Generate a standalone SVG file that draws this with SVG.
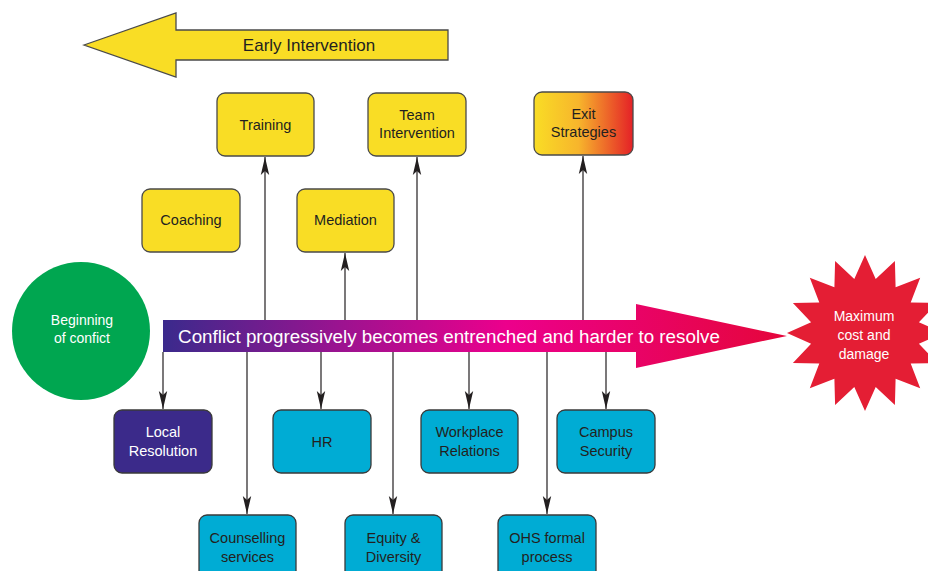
<svg xmlns="http://www.w3.org/2000/svg" width="928" height="571" viewBox="0 0 928 571">
<defs>
<style>
.t{font-family:"Liberation Sans",Arial,sans-serif;font-size:14.5px;fill:#231f20;text-anchor:middle}
.w{fill:#ffffff}
.y{fill:#f9dd25;stroke:#4a4a4a;stroke-width:1.3}
.c{fill:#00acd4;stroke:#3a3a3a;stroke-width:1.3}
.ln{stroke:#231f20;stroke-width:1.2;fill:none}
</style>
<marker id="ah" markerUnits="userSpaceOnUse" markerWidth="20" markerHeight="12" viewBox="0 0 20 12" refX="19" refY="6" orient="auto">
<path d="M19,6 L1,1.8 L5,6 L1,10.2 Z" fill="#231f20"/>
</marker>
<linearGradient id="mg" x1="0" y1="0" x2="1" y2="0">
<stop offset="0" stop-color="#3a2a8c"/>
<stop offset="0.28" stop-color="#9a1390"/>
<stop offset="0.55" stop-color="#ec008c"/>
<stop offset="1" stop-color="#e5063b"/>
</linearGradient>
<linearGradient id="eg" x1="0" y1="0" x2="1" y2="0">
<stop offset="0" stop-color="#f9dd25"/>
<stop offset="0.45" stop-color="#f7b52c"/>
<stop offset="1" stop-color="#e42127"/>
</linearGradient>
</defs>
<rect width="928" height="571" fill="#ffffff"/>

<g id="early-intervention">
<path d="M84,45 L176,13 L176,30 L448,30 L448,60 L176,60 L176,77 Z" fill="#f9dd25" stroke="#4a4a4a" stroke-width="1.3"/>
<text class="t" x="309" y="51" style="font-size:17px">Early Intervention</text>
</g>

<g id="main-arrow">
<path d="M163,320 L636,320 L636,304 L787,336 L636,368 L636,352 L163,352 Z" fill="url(#mg)"/>
<text class="t w" x="449" y="342.5" style="font-size:18.8px">Conflict progressively becomes entrenched and harder to resolve</text>
</g>

<g id="beginning">
<circle cx="81" cy="331" r="69" fill="#00a650"/>
<text class="t w" x="82" y="325" style="font-size:14px">Beginning</text>
<text class="t w" x="82" y="343" style="font-size:14px">of confict</text>
</g>

<g id="maximum">
<polygon fill="#e41e34" transform="translate(5,0)" points="860,255 870.7,279.1 889.9,260.9 890.6,287.3 915.2,277.8 905.7,302.4 932.1,303.1 913.9,322.3 938,333 913.9,343.7 932.1,362.9 905.7,363.6 915.2,388.2 890.6,378.7 889.9,405.1 870.7,387 860,411 849.3,387 830.1,405.1 829.4,378.7 804.8,388.2 814.3,363.6 787.9,362.9 806.1,343.7 782,333 806.1,322.3 787.9,303.1 814.3,302.4 804.8,277.8 829.4,287.3 830.1,260.9 849.3,279.1"/>
<text class="t w" x="864" y="321" style="font-size:14px">Maximum</text>
<text class="t w" x="864" y="340" style="font-size:14px">cost and</text>
<text class="t w" x="864" y="359" style="font-size:14px">damage</text>
</g>

<g id="connectors">
<line class="ln" x1="265" y1="320" x2="265" y2="157" marker-end="url(#ah)"/>
<line class="ln" x1="345" y1="320" x2="345" y2="253" marker-end="url(#ah)"/>
<line class="ln" x1="417" y1="320" x2="417" y2="157" marker-end="url(#ah)"/>
<line class="ln" x1="583" y1="320" x2="583" y2="156" marker-end="url(#ah)"/>
<line class="ln" x1="163" y1="352" x2="163" y2="409" marker-end="url(#ah)"/>
<line class="ln" x1="247" y1="352" x2="247" y2="514" marker-end="url(#ah)"/>
<line class="ln" x1="321" y1="352" x2="321" y2="409" marker-end="url(#ah)"/>
<line class="ln" x1="393" y1="352" x2="393" y2="514" marker-end="url(#ah)"/>
<line class="ln" x1="469" y1="352" x2="469" y2="409" marker-end="url(#ah)"/>
<line class="ln" x1="547" y1="352" x2="547" y2="514" marker-end="url(#ah)"/>
<line class="ln" x1="606" y1="352" x2="606" y2="409" marker-end="url(#ah)"/>
</g>

<g id="training">
<rect class="y" x="217" y="93" width="97" height="63" rx="8"/>
<text class="t" x="265.5" y="130">Training</text>
</g>
<g id="team-intervention">
<rect class="y" x="368" y="93" width="98" height="63" rx="8"/>
<text class="t" x="417" y="120">Team</text>
<text class="t" x="417" y="138">Intervention</text>
</g>
<g id="exit-strategies">
<rect x="534" y="92" width="99" height="63" rx="8" fill="url(#eg)" stroke="#4a4a4a" stroke-width="1.3"/>
<text class="t" x="583.5" y="119">Exit</text>
<text class="t" x="583.5" y="137">Strategies</text>
</g>
<g id="coaching">
<rect class="y" x="142" y="189" width="98" height="63" rx="8"/>
<text class="t" x="191" y="225">Coaching</text>
</g>
<g id="mediation">
<rect class="y" x="297" y="189" width="97" height="63" rx="8"/>
<text class="t" x="345.5" y="225">Mediation</text>
</g>

<g id="local-resolution">
<rect x="114" y="410" width="98" height="63" rx="8" fill="#3b2a8a" stroke="#3a3a3a" stroke-width="1.3"/>
<text class="t w" x="163" y="437">Local</text>
<text class="t w" x="163" y="456">Resolution</text>
</g>
<g id="hr">
<rect class="c" x="273" y="410" width="98" height="63" rx="8"/>
<text class="t" x="322" y="447">HR</text>
</g>
<g id="workplace-relations">
<rect class="c" x="421" y="410" width="97" height="63" rx="8"/>
<text class="t" x="469.5" y="437">Workplace</text>
<text class="t" x="469.5" y="456">Relations</text>
</g>
<g id="campus-security">
<rect class="c" x="557" y="410" width="98" height="63" rx="8"/>
<text class="t" x="606" y="437">Campus</text>
<text class="t" x="606" y="456">Security</text>
</g>
<g id="counselling-services">
<rect class="c" x="199" y="515" width="97" height="70" rx="8"/>
<text class="t" x="247.5" y="543">Counselling</text>
<text class="t" x="247.5" y="562">services</text>
</g>
<g id="equity-diversity">
<rect class="c" x="345" y="515" width="97" height="70" rx="8"/>
<text class="t" x="393.5" y="543">Equity &amp;</text>
<text class="t" x="393.5" y="562">Diversity</text>
</g>
<g id="ohs-formal-process">
<rect class="c" x="498" y="515" width="98" height="70" rx="8"/>
<text class="t" x="547" y="543">OHS formal</text>
<text class="t" x="547" y="562">process</text>
</g>
</svg>
